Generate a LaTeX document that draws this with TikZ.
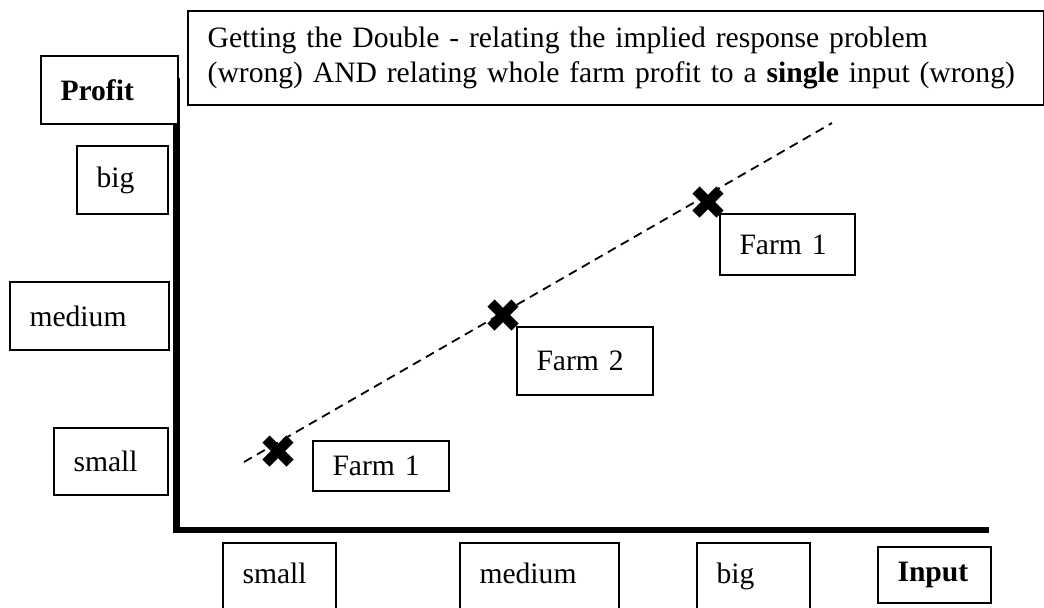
\documentclass[tikz,border=0pt]{standalone}
\usepackage{fontspec}
\setmainfont{Liberation Serif}
\usepackage{tikz}
\usetikzlibrary{positioning}

\tikzset{
  box/.style={draw, line width=1pt, fill=white, anchor=north west, align=left,
              inner xsep=9.75pt, inner ysep=0pt, font=\fontsize{14.8}{17.5}\selectfont},
  openbox/.style={box, text height=20pt, text depth=24pt},
  crossline/.style={line width=5pt},
  trend/.style={dash pattern=on 4.5pt off 3pt, line width=0.9pt}
}

\begin{document}
\begin{tikzpicture}[x=0.5pt,y=-0.5pt]
				\useasboundingbox (0,0) rectangle (1044,607);

				% axes
				\coordinate (ytop)   at (176.5,78);
				\coordinate (origin) at (176.5,530);
				\coordinate (xend)   at (989,530);
				\draw[line width=3.25pt] (ytop) -- (origin) -- (xend);

				% title
				\node[box, line width=1.2pt, text width=408.5pt, minimum height=47pt] (title) at (187,10)
				      {Getting the Double - relating the implied response problem\\\mbox{(wrong) AND relating whole farm profit to a \textbf{single} input (wrong)}};

				% profit axis labels
				\node[box, text width=49pt,   minimum height=34pt]   (profit) at (40,55)  {\textbf{Profit}};
				\node[box, text width=26pt,   minimum height=34pt]   (ybig)   at (76,145) {big};
				\node[box, text width=60pt,   minimum height=34pt]   (ymed)   at (9,281)  {medium};
				\node[box, text width=37.5pt, minimum height=33.5pt] (ysmall) at (53,427) {small};

				% input axis labels
				\node[openbox, text width=37pt] (xsmall) at (222,542) {small};
				\node[openbox, text width=60pt] (xmed)   at (459,542) {medium};
				\node[openbox, text width=37pt] (xbig)   at (696,542) {big};
				\node[box, text width=37pt, minimum height=28pt] (input) at (877,546) {\textbf{Input}};

				% farms
				\node[box, text width=48.5pt, minimum height=25pt]   (farmA) at (312,440) {Farm 1};
				\node[box, text width=48.5pt, minimum height=34pt]   (farmB) at (516,326) {Farm 2};
				\node[box, text width=48pt,   minimum height=30.5pt] (farmC) at (719,213) {Farm 1};

				% trend line
				\coordinate (lstart) at (244,462);
				\coordinate (lend)   at (832,123);
				\draw[trend] (lstart) -- (lend);

				\coordinate (c1) at (278,451);
				\coordinate (c2) at (503,315);
				\coordinate (c3) at (708,202);
				\foreach \c in {c1,c2,c3}
				  \draw[crossline] ([shift={(-12,-12)}]\c) -- ([shift={(12,12)}]\c)
				                   ([shift={(-12,12)}]\c) -- ([shift={(12,-12)}]\c);

			\end{tikzpicture}
\end{document}
